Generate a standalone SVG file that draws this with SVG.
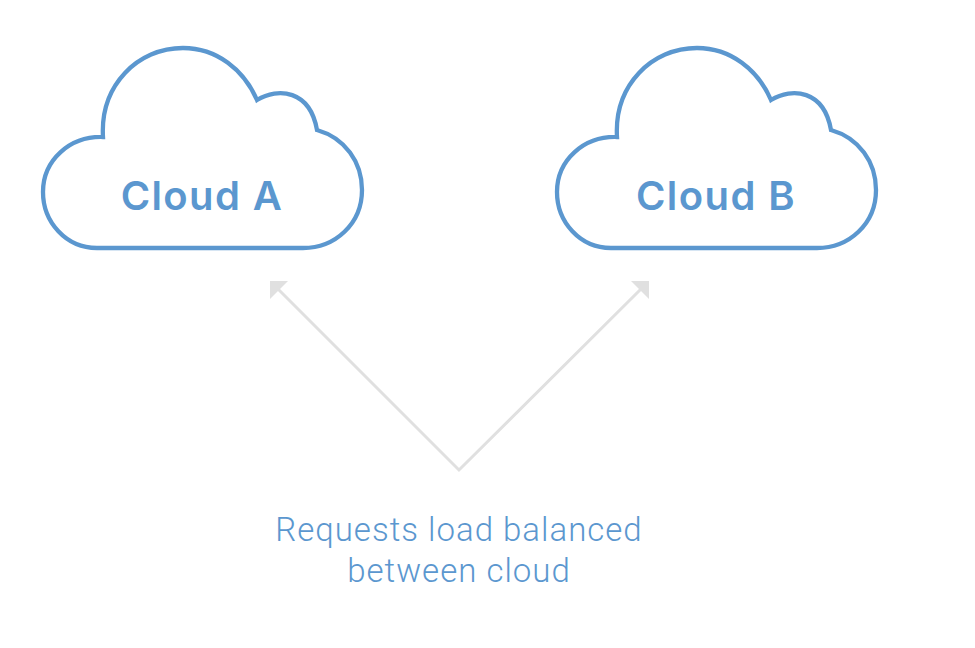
<svg xmlns="http://www.w3.org/2000/svg" width="975" height="648" viewBox="0 0 975 648">
<style>
.cloud{fill:#fff;stroke:#5b97cf;stroke-width:4.3;stroke-linejoin:miter}
.title{font-family:"Inter","Liberation Sans",sans-serif;font-weight:600;font-size:40px;letter-spacing:1.4px;fill:#5b97cf;text-anchor:middle}
.note{font-family:"Roboto","Liberation Sans",sans-serif;font-weight:300;font-size:33px;letter-spacing:1px;fill:#5b97cf;text-anchor:middle}
.arrow{fill:none;stroke:#e0e0e0;stroke-width:3}
.head{fill:#e0e0e0}
</style>
<defs>
<path id="cloud-shape" d="M103 137C100 85 138 48 183 48C217 48 244 70 257 100C278 87 310 90 317 130C345 138 362 162 362 190C362 224 335 248 303 248L97 248C66 248 43 222 43 192C43 160 70 136 103 137Z"/>
</defs>
<rect width="975" height="648" fill="#fff"/>
<g id="connectors">
<path class="arrow" d="M275 286L459 470L644 286"/>
<polygon class="head" points="270,281 288,281 270,299"/>
<polygon class="head" points="649,281 631,281 649,299"/>
</g>
<g id="cloud-a">
<use href="#cloud-shape" class="cloud"/>
<text class="title" x="202" y="210">Cloud A</text>
</g>
<g id="cloud-b">
<use href="#cloud-shape" class="cloud" x="514"/>
<text class="title" x="716" y="210">Cloud B</text>
</g>
<g id="note">
<text class="note" x="459" y="541">Requests load balanced</text>
<text class="note" x="459" y="582">between cloud</text>
</g>
</svg>
